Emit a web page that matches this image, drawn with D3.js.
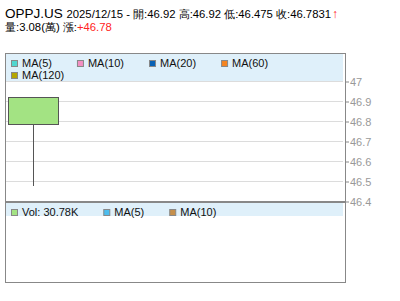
<!DOCTYPE html>
<meta charset="utf-8">
<style>
body { margin: 0; background: #fff; }
text { font-family: "Liberation Sans", Arial, sans-serif; }
.grid line { stroke: #dcdcdc; }
.axis text { fill: #999; font-size: 11px; }
.axis line { stroke: #888; }
.axis path { display: none; }
.lg text { font-size: 11px; fill: #111; }
</style>
<svg width="400" height="301"></svg>
<script src="https://cdn.jsdelivr.net/npm/d3@7"></script>
<script>

var symbol = "OPPJ.US";
var dates = ["2025/12/15"];
var opens = [46.92];
var highs = [46.92];
var lows = [46.475];
var closes = [46.7831];
var volumes = [30.78]; // K
var priceTicks = [46.4, 46.5, 46.6, 46.7, 46.8, 46.9, 47];

var priceLegend = [
  {name: "MA(5)", color: "#4fd6d0"},
  {name: "MA(10)", color: "#f38fc2"},
  {name: "MA(20)", color: "#0861b5"},
  {name: "MA(60)", color: "#f5841f"},
  {name: "MA(120)", color: "#b5a600"}
];
var volLegend = [
  {name: "Vol: " + volumes[0].toFixed(2) + "K", color: "#a3e383"},
  {name: "MA(5)", color: "#4cbdee"},
  {name: "MA(10)", color: "#c58f4b"}
];

var svg = d3.select("svg");

var pLeft = 5, pRight = 345, pTop = 53, pSep = 201, pBottom = 282;

// header
var h = svg.append("text").attr("x", 5).attr("y", 18);
h.append("tspan").attr("font-size", "13.5px").text(symbol + " ");
h.append("tspan").attr("font-size", "11.3px")
  .text(dates[0] + " - 開:" + opens[0] + " 高:" + highs[0] + " 低:" + lows[0] + " 收:" + closes[0]);
h.append("tspan").attr("font-size", "12px").attr("font-weight", "bold").attr("fill", "#f22").attr("dx", 1).text("↑");

var h2 = svg.append("text").attr("x", 5).attr("y", 31).attr("font-size", "11.3px");
h2.append("tspan").text("量:" + (volumes[0] / 10).toFixed(2) + "(萬) 漲:");
h2.append("tspan").attr("fill", "#f22").text("+" + closes[0].toFixed(2));

var x = d3.scaleBand().domain(d3.range(6)).range([pLeft, pRight]).paddingInner(0.12).paddingOuter(0.06);
var y = d3.scaleLinear().domain([46.4, 47]).range([pSep, 81]);

// grid
svg.append("g").attr("class", "grid")
  .selectAll("line").data(priceTicks).enter().append("line")
  .attr("x1", pLeft + 1).attr("x2", pRight - 2)
  .attr("y1", function(d) { return Math.round(y(d)) + 0.5; })
  .attr("y2", function(d) { return Math.round(y(d)) + 0.5; });

// axis
svg.append("g").attr("class", "axis")
  .attr("transform", "translate(" + pRight + ",0.5)")
  .call(d3.axisRight(y).tickValues(priceTicks).tickSize(4).tickPadding(1)
    .tickFormat(function(d) { return d === 47 ? "47" : d3.format(".1f")(d); }));

// candle
var cg = svg.append("g");
dates.forEach(function(d, i) {
  var cx = Math.round(x(i) + x.bandwidth() / 2) + 0.5;
  cg.append("line").attr("x1", cx).attr("x2", cx)
    .attr("y1", y(Math.max(opens[i], closes[i]))).attr("y2", y(lows[i]))
    .attr("stroke", "#555");
  cg.append("rect")
    .attr("x", Math.round(x(i)) + 0.5)
    .attr("y", Math.round(y(Math.max(opens[i], closes[i]))) + 0.5)
    .attr("width", Math.round(x.bandwidth()))
    .attr("height", Math.round(Math.abs(y(opens[i]) - y(closes[i]))))
    .attr("fill", "#a3e383").attr("stroke", "#555");
});

// legends
function legend(items, y0, y1) {
  svg.append("rect").attr("x", pLeft + 1).attr("y", y0).attr("width", pRight - pLeft - 3).attr("height", y1 - y0)
    .attr("fill", "#dff0fa");
  var g = svg.append("g").attr("class", "lg");
  var px = 11, py = y0 + 6;
  items.forEach(function(d) {
    var t = g.append("text").attr("y", py + 7).text(d.name);
    var w = t.node().getComputedTextLength();
    if (px + 11 + w > pRight - 10) { px = 11; py += 12; t.attr("y", py + 7); }
    t.attr("x", px + 11);
    g.append("rect").attr("x", px + 0.5).attr("y", py + 0.5).attr("width", 6).attr("height", 6)
      .attr("fill", d.color).attr("stroke", "#888");
    px += 11 + w + 25;
  });
}
legend(priceLegend, pTop + 1, 81);
legend(volLegend, pSep + 2, 216);

// frame
svg.append("rect").attr("x", pLeft + 0.5).attr("y", pTop + 0.5).attr("width", pRight - pLeft).attr("height", pBottom - pTop)
  .attr("fill", "none").attr("stroke", "#888");
svg.append("line").attr("x1", pLeft).attr("x2", pRight).attr("y1", pSep + 1).attr("y2", pSep + 1)
  .attr("stroke", "#888").attr("stroke-width", 2);

</script>
